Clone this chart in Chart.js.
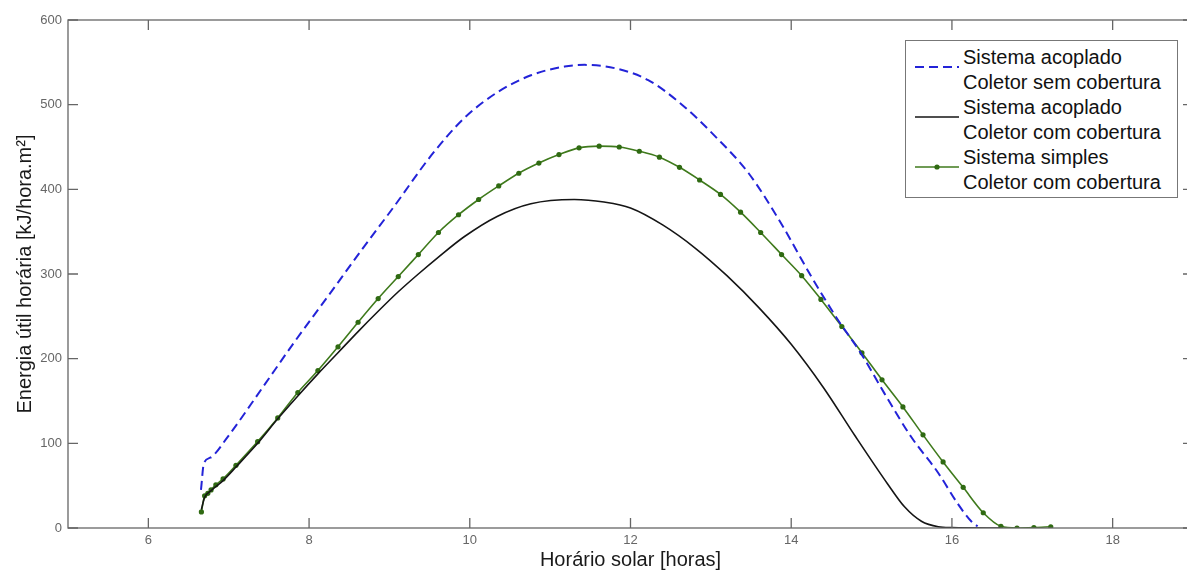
<!DOCTYPE html>
<html>
<head>
<meta charset="utf-8">
<script src="https://cdn.jsdelivr.net/npm/chart.js@4.4.1/dist/chart.umd.min.js"></script>
<style>
  html, body { margin: 0; padding: 0; background: #fff; overflow: hidden; }
  #wrap { position: relative; width: 1200px; height: 572px; }
  #legend {
    position: absolute; left: 905px; top: 40px; width: 271px; height: 152px;
    border: 1px solid #777; background: #fff; padding-top: 4px;
    font-family: "Liberation Sans", Arial, sans-serif; font-size: 20px; line-height: 25px; color: #111;
  }
  .item { position: relative; padding-left: 57px; white-space: nowrap; }
  .item svg { position: absolute; left: 9px; top: 19px; }
</style>
</head>
<body>
<div id="wrap">
  <canvas id="chart" width="1200" height="572"></canvas>
  <div id="legend"></div>
</div>
<script>
// Energia útil horária x horário solar

const xTicks = [6, 8, 10, 12, 14, 16, 18];
const yTicks = [0, 100, 200, 300, 400, 500, 600];

// Sistema acoplado - coletor sem cobertura (azul tracejado)
const blueX = [6.655, 6.69, 6.77, 6.99, 7.40, 7.82, 8.23, 8.65, 9.06, 9.52, 9.93, 10.35, 10.77, 11.18, 11.43, 11.81,
  12.22, 12.64, 13.06, 13.47, 13.86, 14.25, 14.58, 14.87, 15.16, 15.49, 15.83, 16.07, 16.24, 16.32];
const blueY = [45, 76, 83, 108, 163, 220, 273, 328, 380, 440, 484, 515, 535, 545, 547, 543,
  529, 500, 462, 419, 362, 297, 246, 206, 159, 108, 65, 29, 8, 2];

// Sistema acoplado - coletor com cobertura (preto)
const blackX = [6.66, 6.70, 6.78, 6.93, 7.09, 7.36, 7.61, 7.86, 8.11, 8.36, 8.61, 8.86, 9.11, 9.36, 9.61, 9.93,
  10.34, 10.76, 11.30, 11.67, 12.00, 12.40, 12.80, 13.20, 13.60, 14.00, 14.40, 14.80, 15.20, 15.41, 15.62, 15.83, 16.00, 16.60];
const blackY = [22, 36, 44, 56, 72, 100, 129, 156, 182, 207, 232, 256, 279, 300, 320, 344,
  368, 383, 388, 385, 378, 358, 331, 298, 260, 217, 166, 108, 52, 25, 8, 1.5, 0.5, 0];

// Sistema simples - coletor com cobertura (verde com marcadores)
const greenX = [6.66, 6.70, 6.74, 6.78, 6.84, 6.93, 7.09, 7.36, 7.61, 7.86, 8.11, 8.36, 8.61, 8.86, 9.11, 9.36,
  9.61, 9.86, 10.11, 10.36, 10.61, 10.86, 11.11, 11.36, 11.61, 11.86, 12.11, 12.36, 12.61, 12.86, 13.12, 13.37,
  13.62, 13.88, 14.13, 14.37, 14.63, 14.88, 15.13, 15.39, 15.64, 15.89, 16.14, 16.39, 16.61, 16.81, 17.02, 17.23];
const greenY = [19, 38, 41, 45, 51, 58, 74, 102, 130, 160, 186, 214, 243, 271, 297, 323,
  349, 370, 388, 404, 419, 431, 441, 449, 451, 450, 445, 438, 426, 411, 394, 373,
  349, 323, 298, 270, 238, 207, 175, 143, 110, 78, 48, 18, 2, 0, 0.5, 1.5];

const AXIS_COLOR = '#666';
const TICK_LEN = 10;

function pairs(xs, ys) {
  return xs.map((x, i) => ({ x: x, y: ys[i] }));
}

// MATLAB style box with inward ticks on all four sides
const boxTicks = {
  id: 'boxTicks',
  afterDatasetsDraw(chart) {
    const { ctx, chartArea: a, scales: { x, y } } = chart;
    ctx.save();
    ctx.strokeStyle = AXIS_COLOR;
    ctx.lineWidth = 1.3;
    ctx.strokeRect(a.left, a.top, a.right - a.left, a.bottom - a.top);
    ctx.beginPath();
    x.ticks.forEach(t => {
      const px = x.getPixelForValue(t.value);
      ctx.moveTo(px, a.bottom); ctx.lineTo(px, a.bottom - TICK_LEN);
      ctx.moveTo(px, a.top); ctx.lineTo(px, a.top + TICK_LEN);
    });
    y.ticks.forEach(t => {
      const py = y.getPixelForValue(t.value);
      ctx.moveTo(a.left, py); ctx.lineTo(a.left + TICK_LEN, py);
      ctx.moveTo(a.right, py); ctx.lineTo(a.right - TICK_LEN, py);
    });
    ctx.stroke();
    ctx.restore();
  }
};

const datasets = [
  {
    label: ['Sistema acoplado', 'Coletor sem cobertura'],
    data: pairs(blueX, blueY),
    borderColor: '#2323d8',
    borderWidth: 2,
    borderDash: [9, 5],
    pointRadius: 0,
    cubicInterpolationMode: 'monotone'
  },
  {
    label: ['Sistema acoplado', 'Coletor com cobertura'],
    data: pairs(blackX, blackY),
    borderColor: '#151515',
    borderWidth: 1.6,
    pointRadius: 0,
    cubicInterpolationMode: 'monotone'
  },
  {
    label: ['Sistema simples', 'Coletor com cobertura'],
    data: pairs(greenX, greenY),
    borderColor: '#3f7a1c',
    borderWidth: 1.6,
    pointRadius: 2.6,
    pointBackgroundColor: '#2f6a12',
    pointBorderWidth: 0,
    cubicInterpolationMode: 'monotone'
  }
];

const chart = new Chart(document.getElementById('chart'), {
  type: 'line',
  data: { datasets },
  plugins: [boxTicks],
  options: {
    responsive: false,
    animation: false,
    layout: { padding: { top: 20, right: 7, left: 0, bottom: 0 } },
    plugins: { legend: { display: false }, tooltip: { enabled: false } },
    scales: {
      x: {
        type: 'linear',
        min: 5,
        max: 19,
        afterBuildTicks: s => { s.ticks = xTicks.map(v => ({ value: v })); },
        afterFit: s => { s.height = 44; },
        grid: { display: false, drawTicks: false },
        border: { display: false },
        ticks: { color: '#666', padding: 5, font: { family: 'Liberation Sans', size: 13 } },
        title: {
          display: true,
          text: 'Horário solar [horas]',
          color: '#1a1a1a',
          padding: { top: 0, bottom: 0 },
          font: { family: 'Liberation Sans', size: 20, lineHeight: 1.2 }
        }
      },
      y: {
        min: 0,
        max: 600,
        afterBuildTicks: s => { s.ticks = yTicks.map(v => ({ value: v })); },
        afterFit: s => { s.width = 68; },
        grid: { display: false, drawTicks: false },
        border: { display: false },
        ticks: { color: '#666', padding: 6, font: { family: 'Liberation Sans', size: 13 } },
        title: {
          display: true,
          text: 'Energia útil horária [kJ/hora.m²]',
          color: '#1a1a1a',
          padding: { top: 13, bottom: 0 },
          font: { family: 'Liberation Sans', size: 20, lineHeight: 1.2 }
        }
      }
    }
  }
});

// HTML legend built from the datasets
function buildLegend() {
  const box = document.getElementById('legend');
  chart.data.datasets.forEach(ds => {
    const item = document.createElement('div');
    item.className = 'item';
    const dash = ds.borderDash ? `stroke-dasharray="${ds.borderDash.join(' ')}"` : '';
    const dot = ds.pointRadius ? `<circle cx="22" cy="3" r="2.6" fill="${ds.pointBackgroundColor}"/>` : '';
    item.innerHTML =
      `<svg width="44" height="6"><line x1="0" y1="3" x2="44" y2="3" stroke="${ds.borderColor}" stroke-width="${ds.borderWidth}" ${dash}/>${dot}</svg>` +
      ds.label.map(l => `<div>${l}</div>`).join('');
    box.appendChild(item);
  });
}
buildLegend();
</script>
</body>
</html>
